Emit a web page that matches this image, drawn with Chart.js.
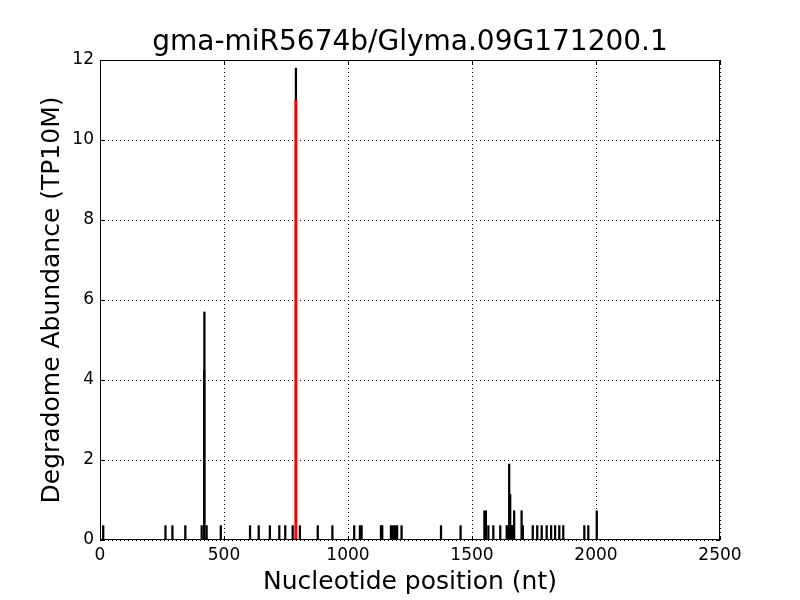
<!DOCTYPE html>
<html>
<head>
<meta charset="utf-8">
<script src="https://cdn.jsdelivr.net/npm/chart.js@4.4.0/dist/chart.umd.min.js"></script>
<style>
    html, body { margin: 0; padding: 0; background: #fff; }
</style>
</head>
<body>
<canvas id="degradomeChart" width="800" height="600"></canvas>
<script>
const chartTitle = 'gma-miR5674b/Glyma.09G171200.1';

// degradome reads along the transcript
const positions = [
    13, 264, 292, 344, 410, 420, 421, 430, 487, 605,
    640, 685, 723, 747, 777, 790, 806, 878, 937, 1025,
    1048, 1055, 1133, 1138, 1173, 1181, 1190, 1198, 1216, 1375,
    1454, 1550, 1556, 1566, 1586, 1614, 1640, 1646, 1650, 1654,
    1658, 1662, 1666, 1670, 1700, 1705, 1745, 1763, 1781, 1801,
    1819, 1835, 1852, 1868, 1953, 1969, 2003
];
const abundance = [
    0.36, 0.36, 0.36, 0.36, 0.36, 4.25, 5.7, 0.36, 0.36, 0.36,
    0.36, 0.36, 0.36, 0.36, 0.36, 11.8, 0.36, 0.36, 0.36, 0.36,
    0.36, 0.36, 0.36, 0.36, 0.36, 0.36, 0.36, 0.36, 0.36, 0.36,
    0.36, 0.73, 0.73, 0.36, 0.36, 0.36, 0.36, 0.36, 1.9, 1.14,
    0.36, 0.36, 0.36, 0.73, 0.73, 0.36, 0.36, 0.36, 0.36, 0.36,
    0.36, 0.36, 0.36, 0.36, 0.36, 0.36, 0.73
];

// predicted cleavage site
const sitePositions = [790];
const siteAbundance = [11.0];

const xTicks = [0, 500, 1000, 1500, 2000, 2500];
const yTicks = [0, 2, 4, 6, 8, 10, 12];

const FONT = '"DejaVu Sans", sans-serif';

// box, inward ticks and title like the matplotlib original
const framePlugin = {
    id: 'frame',
    afterDraw(chart) {
        const { ctx, chartArea: a, scales: { x, y } } = chart;
        ctx.save();
        ctx.strokeStyle = '#000';
        ctx.lineWidth = 1;
        ctx.strokeRect(a.left + 0.5, a.top + 0.5, a.right - a.left - 1, a.bottom - a.top - 1);

        ctx.beginPath();
        xTicks.forEach(v => {
            const px = Math.round(x.getPixelForValue(v)) + 0.5;
            ctx.moveTo(px, a.bottom); ctx.lineTo(px, a.bottom - 4);
            ctx.moveTo(px, a.top); ctx.lineTo(px, a.top + 4);
        });
        yTicks.forEach(v => {
            const py = Math.round(y.getPixelForValue(v)) + 0.5;
            ctx.moveTo(a.left, py); ctx.lineTo(a.left + 4, py);
            ctx.moveTo(a.right, py); ctx.lineTo(a.right - 4, py);
        });
        ctx.stroke();

        ctx.fillStyle = '#000';
        ctx.font = '28px ' + FONT;
        ctx.textAlign = 'center';
        ctx.textBaseline = 'middle';
        ctx.fillText(chartTitle, (a.left + a.right) / 2, 43);
        ctx.restore();
    }
};

const ctx = document.getElementById('degradomeChart');

new Chart(ctx, {
    type: 'bar',
    data: {
        datasets: [{
            label: 'reads',
            data: positions.map((p, i) => ({ x: p, y: abundance[i] })),
            backgroundColor: '#000',
            barThickness: 1.6,
            grouped: false,
            order: 2
        }, {
            label: 'site',
            data: sitePositions.map((p, i) => ({ x: p, y: siteAbundance[i] })),
            backgroundColor: '#ff0000',
            barThickness: 2.2,
            grouped: false,
            order: 1
        }]
    },
    options: {
        responsive: false,
        animation: false,
        layout: {
            padding: { top: 60, right: 80, left: 0, bottom: 0 }
        },
        plugins: {
            legend: { display: false },
            tooltip: { enabled: false }
        },
        scales: {
            x: {
                type: 'linear',
                min: 0,
                max: 2500,
                offset: false,
                afterFit(scale) { scale.height = 60; },
                afterBuildTicks(scale) { scale.ticks = xTicks.map(v => ({ value: v })); },
                grid: {
                    offset: false,
                    color: '#000',
                    lineWidth: 1,
                    drawTicks: false
                },
                border: { display: false, dash: [1, 3] },
                ticks: {
                    autoSkip: false,
                    maxRotation: 0,
                    padding: 5,
                    color: '#000',
                    font: { family: FONT, size: 17 },
                    callback: v => String(v)
                },
                title: {
                    display: true,
                    text: 'Nucleotide position (nt)',
                    color: '#000',
                    font: { family: FONT, size: 25 },
                    padding: { top: 0, bottom: 3 }
                }
            },
            y: {
                min: 0,
                max: 12,
                afterFit(scale) { scale.width = 100; },
                afterBuildTicks(scale) { scale.ticks = yTicks.map(v => ({ value: v })); },
                grid: {
                    color: '#000',
                    lineWidth: 1,
                    drawTicks: false
                },
                border: { display: false, dash: [1, 3] },
                ticks: {
                    padding: 6,
                    color: '#000',
                    font: { family: FONT, size: 17 },
                    callback: v => String(v)
                },
                title: {
                    display: true,
                    text: 'Degradome Abundance (TP10M)',
                    color: '#000',
                    font: { family: FONT, size: 25 },
                    padding: { top: 37, bottom: 0 }
                }
            }
        }
    },
    plugins: [framePlugin]
});
</script>
</body>
</html>
